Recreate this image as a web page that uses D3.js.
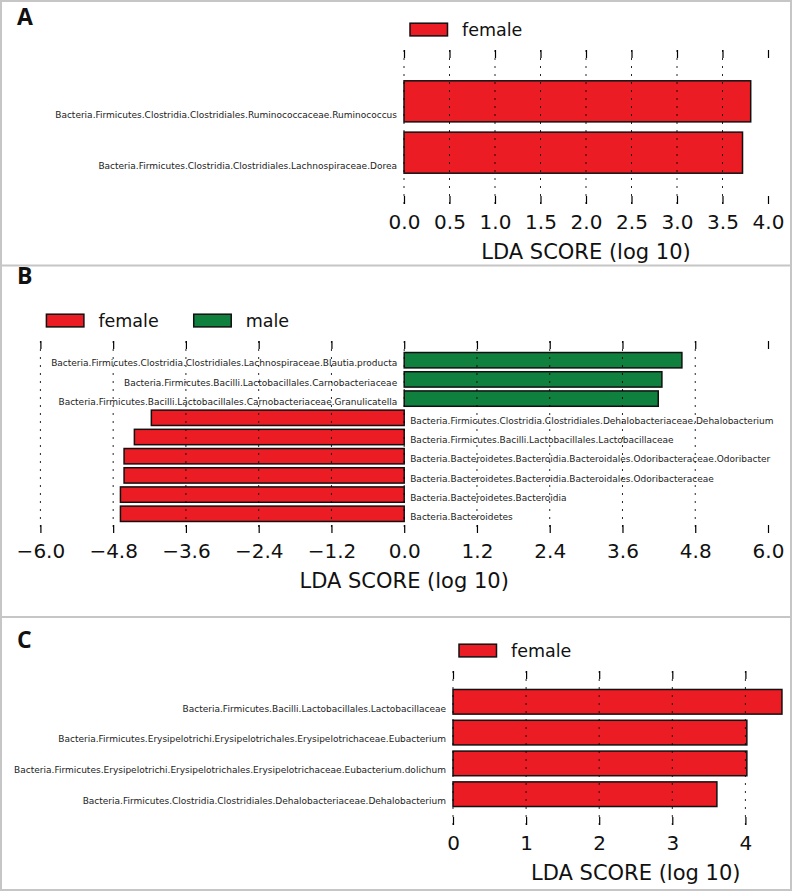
<!DOCTYPE html>
<html>
<head>
<meta charset="utf-8">
<script src="https://cdn.jsdelivr.net/npm/d3@7"></script>
<style>
  html, body { margin: 0; padding: 0; background: #fff; }
  svg { display: block; }
</style>
</head>
<body>
<svg id="chart" width="792" height="891"></svg>
<script>
// ---------- data ----------
const taxaA = [
  "Bacteria.Firmicutes.Clostridia.Clostridiales.Ruminococcaceae.Ruminococcus",
  "Bacteria.Firmicutes.Clostridia.Clostridiales.Lachnospiraceae.Dorea"
];
const scoresA = [3.81, 3.72];
const classesA = ["female", "female"];
const ticksA = [0.0, 0.5, 1.0, 1.5, 2.0, 2.5, 3.0, 3.5, 4.0];

const taxaB = [
  "Bacteria.Firmicutes.Clostridia.Clostridiales.Lachnospiraceae.Blautia.producta",
  "Bacteria.Firmicutes.Bacilli.Lactobacillales.Carnobacteriaceae",
  "Bacteria.Firmicutes.Bacilli.Lactobacillales.Carnobacteriaceae.Granulicatella",
  "Bacteria.Firmicutes.Clostridia.Clostridiales.Dehalobacteriaceae.Dehalobacterium",
  "Bacteria.Firmicutes.Bacilli.Lactobacillales.Lactobacillaceae",
  "Bacteria.Bacteroidetes.Bacteroidia.Bacteroidales.Odoribacteraceae.Odoribacter",
  "Bacteria.Bacteroidetes.Bacteroidia.Bacteroidales.Odoribacteraceae",
  "Bacteria.Bacteroidetes.Bacteroidia",
  "Bacteria.Bacteroidetes"
];
const scoresB = [4.58, 4.25, 4.19, -4.17, -4.45, -4.62, -4.62, -4.68, -4.68];
const classesB = ["male", "male", "male", "female", "female", "female", "female", "female", "female"];
const ticksB = [-6.0, -4.8, -3.6, -2.4, -1.2, 0.0, 1.2, 2.4, 3.6, 4.8, 6.0];

const taxaC = [
  "Bacteria.Firmicutes.Bacilli.Lactobacillales.Lactobacillaceae",
  "Bacteria.Firmicutes.Erysipelotrichi.Erysipelotrichales.Erysipelotrichaceae.Eubacterium",
  "Bacteria.Firmicutes.Erysipelotrichi.Erysipelotrichales.Erysipelotrichaceae.Eubacterium.dolichum",
  "Bacteria.Firmicutes.Clostridia.Clostridiales.Dehalobacteriaceae.Dehalobacterium"
];
const scoresC = [4.50, 4.02, 4.02, 3.61];
const classesC = ["female", "female", "female", "female"];
const ticksC = [0, 1, 2, 3, 4];

const legendA = ["female"];
const legendB = ["female", "male"];
const legendC = ["female"];

const classColor = { female: "#ec1c24", male: "#10803f" };

// ---------- drawing ----------
const svg = d3.select("#chart");
const W = 792, H = 891;
const FONT = "'DejaVu Sans', sans-serif";

// frame + dividers
svg.append("rect").attr("x", 1).attr("y", 1).attr("width", W - 2).attr("height", H - 2)
  .attr("fill", "none").attr("stroke", "#c6c6c6").attr("stroke-width", 2);
[265.5, 617].forEach(y => svg.append("line").attr("x1", 0).attr("x2", W)
  .attr("y1", y).attr("y2", y).attr("stroke", "#c6c6c6").attr("stroke-width", 2));

function panel(opt) {
  const g = svg.append("g");
  const clipId = "clip" + opt.letter;
  svg.append("defs").append("clipPath").attr("id", clipId)
    .append("rect").attr("x", 2).attr("y", opt.clipTop).attr("width", 787).attr("height", opt.clipH);
  const cg = g.append("g").attr("clip-path", `url(#${clipId})`);

  // panel letter
  g.append("text").attr("x", 17).attr("y", opt.letterY)
    .attr("font-family", "'Open Sans', 'DejaVu Sans', sans-serif").attr("font-weight", 700)
    .attr("font-size", 23).attr("fill", "#111").text(opt.letter);

  const n = opt.taxa.length;
  const x = d3.scaleLinear().domain(opt.xDomain).range(opt.xRange);
  const y = d3.scaleLinear().domain([0, n + 1]).range([opt.top, opt.bottom]);
  const pitch = y(1) - y(0);
  const bh = pitch * 0.8;

  // bars
  cg.selectAll("rect.bar").data(opt.scores).join("rect")
    .attr("x", d => x(Math.min(0, d)))
    .attr("y", (d, i) => y(i + 1) - bh / 2)
    .attr("width", d => Math.abs(x(d) - x(0)))
    .attr("height", bh)
    .attr("fill", (d, i) => classColor[opt.classes[i]])
    .attr("stroke", "#111").attr("stroke-width", 1.5);

  // grid (dashed) on top of bars, except the right limit
  const dmax = opt.xDomain[1];
  cg.selectAll("line.grid").data(opt.ticks.filter(t => t < dmax)).join("line")
    .attr("x1", d => x(d)).attr("x2", d => x(d))
    .attr("y1", opt.top).attr("y2", opt.bottom)
    .attr("stroke", "#000").attr("stroke-opacity", 0.85).attr("stroke-width", 1)
    .attr("stroke-dasharray", "2,6");

  // ticks at top and bottom (inward)
  const axTop = d3.axisTop(x).tickValues(opt.ticks).tickSizeInner(-8).tickSizeOuter(0).tickFormat("");
  const axBot = d3.axisBottom(x).tickValues(opt.ticks).tickSizeInner(-8).tickSizeOuter(0)
    .tickFormat(d => opt.fmt(d));
  const gt = cg.append("g").attr("transform", `translate(0,${opt.top})`).call(axTop);
  const gb = cg.append("g").attr("transform", `translate(0,${opt.bottom})`).call(axBot);
  [gt, gb].forEach(a => {
    a.select(".domain").remove();
    a.selectAll(".tick line").attr("stroke", "#000").attr("stroke-width", 1.2);
  });
  gb.selectAll(".tick text").attr("y", 25).attr("dy", 0)
    .attr("font-family", FONT).attr("font-size", 20).attr("fill", "#111");

  // axis title
  g.append("text").attr("x", (x.range()[0] + x.range()[1]) / 2).attr("y", opt.bottom + 54.5)
    .attr("text-anchor", "middle").attr("font-family", FONT).attr("font-size", 21)
    .attr("fill", "#111").text("LDA SCORE (log 10)");

  // taxon labels on the opposite side of zero
  g.selectAll("text.lab").data(opt.taxa).join("text")
    .attr("x", (d, i) => opt.scores[i] >= 0 ? x(0) - 7 : x(0) + 6)
    .attr("y", (d, i) => y(i + 1) + bh / 2 - 0.1 * bh)
    .attr("text-anchor", (d, i) => opt.scores[i] >= 0 ? "end" : "start")
    .attr("font-family", FONT).attr("font-size", 9).attr("fill", "#222")
    .text(d => d);

  // legend
  let lx = x.range()[0] + 6;
  const ly = opt.top - 20.5;
  opt.legend.forEach(name => {
    g.append("rect").attr("x", lx).attr("y", ly - 6.3).attr("width", 37.5).attr("height", 12.7)
      .attr("fill", classColor[name]).attr("stroke", "#111").attr("stroke-width", 1.5);
    const t = g.append("text").attr("x", lx + 52).attr("y", ly).attr("dy", "0.35em")
      .attr("font-family", FONT).attr("font-size", 17.5).attr("fill", "#111").text(name);
    lx = lx + 52 + t.node().getComputedTextLength() + 35;
  });
}

const fmt1 = d => d3.format(".1f")(d).replace("-", "\u2212");

panel({ letter: "A", letterY: 25, taxa: taxaA, scores: scoresA, classes: classesA, ticks: ticksA,
  legend: legendA, xDomain: [0, 4], xRange: [404, 768], top: 50, bottom: 204,
  fmt: fmt1, clipTop: 2, clipH: 262 });

panel({ letter: "B", letterY: 284, taxa: taxaB, scores: scoresB, classes: classesB, ticks: ticksB,
  legend: legendB, xDomain: [-6, 6], xRange: [40.4, 768], top: 341, bottom: 533,
  fmt: fmt1, clipTop: 267, clipH: 349 });

panel({ letter: "C", letterY: 648, taxa: taxaC, scores: scoresC, classes: classesC, ticks: ticksC,
  legend: legendC, xDomain: [0, 5], xRange: [453, 818.5], top: 671, bottom: 825,
  fmt: d => d3.format("d")(d), clipTop: 618, clipH: 271 });
</script>
</body>
</html>
